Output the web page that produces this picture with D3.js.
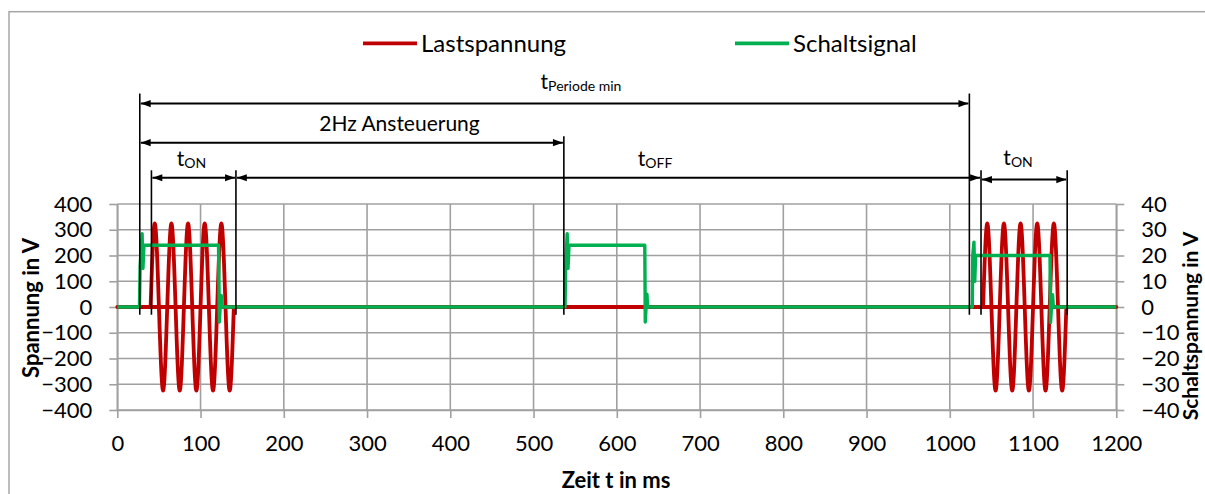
<!DOCTYPE html>
<html lang="de">
  <head>
    <meta charset="utf-8">
    <title>Lastspannung und Schaltsignal</title>
    <script src="https://d3js.org/d3.v7.min.js"></script>
    <style>
      body { margin: 0; background: #fff; }
      svg { display: block; font-family: Lato, "Open Sans", sans-serif; }
      .tick text { fill: #000; }
    </style>
  </head>
  <body>
    <svg id="chart" width="1205" height="494"></svg>

    <script type="text/javascript">
      // ---- data ----
      var timeTicks = [0, 100, 200, 300, 400, 500, 600, 700, 800, 900, 1000, 1100, 1200];
      var voltTicks = [-400, -300, -200, -100, 0, 100, 200, 300, 400];
      var schaltTicks = [-40, -30, -20, -10, 0, 10, 20, 30, 40];

      // Lastspannung: zero line plus two 50 Hz bursts (zero crossings and peaks)
      var lastZeroTime = [0, 1200];
      var lastZeroVolt = [0, 0];
      var burst1Time = [40, 45, 50, 55, 60, 65, 70, 75, 80, 85, 90, 95, 100, 105, 110, 115, 120, 125, 130, 135, 140];
      var burst1Volt = [0, 325, 0, -325, 0, 325, 0, -325, 0, 325, 0, -325, 0, 325, 0, -325, 0, 325, 0, -325, 0];
      var burst2Time = [1040, 1045, 1050, 1055, 1060, 1065, 1070, 1075, 1080, 1085, 1090, 1095, 1100, 1105, 1110, 1115, 1120, 1125, 1130, 1135, 1140];
      var burst2Volt = [0, 325, 0, -325, 0, 325, 0, -325, 0, 325, 0, -325, 0, 325, 0, -325, 0, 325, 0, -325, 0];

      // Schaltsignal (right axis, V)
      var schaltTime = [0, 26.6, 27.4, 29.8, 30.8, 32, 121.6, 122.6, 123.6, 124.8, 126,
                        537.8, 538.6, 540.4, 541.4, 542.6, 633.6, 634.2, 635.2, 636.2, 637,
                        1027, 1027.6, 1029, 1030, 1031, 1120.4, 1121, 1122.2, 1123.4, 1124.4, 1200];
      var schaltVolt = [0, 0, 16, 28.5, 15, 24, 24, -5.8, 0, 4.5, 0,
                        0, 16, 28.5, 15, 24, 24, -5.8, 0, 5, 0,
                        0, 20, 25.2, 10, 20, 20, -6, 0, 4.8, 0, 0];

      // annotation markers (ms) and how high they reach (V on the left scale)
      var markerTime = [27, 41, 142.5, 536.4, 1023.5, 1037.5, 1141];
      var markerTop = [829, 531, 531, 663, 829, 531, 531];
      var markerBottom = -30;

      // dimension arrows: start ms, end ms, level V, label
      var arrowFrom = [27, 27, 41, 142.5, 1037.5];
      var arrowTo = [1023.5, 536.4, 142.5, 1037.5, 1141];
      var arrowLevel = [790, 638, 502, 502, 495];
      var labelMain = ["t", "2Hz Ansteuerung", "t", "t", "t"];
      var labelSub = ["Periode min", "", "ON", "OFF", "ON"];
      var labelTime = [557, 339, 89, 646, 1082];
      var labelLevel = [847, 684, 548, 548, 550];

      var seriesNames = ["Lastspannung", "Schaltsignal"];
      var seriesColors = ["#c00000", "#00b050"];

      // ---- layout ----
      var svg = d3.select("#chart");
      var plotLeft = 117.3, plotRight = 1116.3, plotTop = 204, plotBottom = 410;
      var gridColor = "#a0a0a0";

      var x = d3.scaleLinear().domain([0, 1200]).range([plotLeft, plotRight]);
      var yL = d3.scaleLinear().domain([-400, 400]).range([plotBottom, plotTop]);
      var yR = d3.scaleLinear().domain([-40, 40]).range([plotBottom, plotTop]);

      // chart frame (right and bottom edge fall outside the picture)
      svg.append("rect")
        .attr("x", 9).attr("y", 11.7)
        .attr("width", 1250).attr("height", 520)
        .attr("fill", "none").attr("stroke", "#a6a6a6").attr("stroke-width", 1.5);

      // grid
      var grid = svg.append("g").attr("stroke", gridColor).attr("stroke-width", 1.6);
      grid.selectAll(".vgrid").data(timeTicks).enter().append("line")
        .attr("x1", function(d) { return x(d); }).attr("x2", function(d) { return x(d); })
        .attr("y1", plotTop).attr("y2", plotBottom);
      grid.selectAll(".hgrid").data(voltTicks).enter().append("line")
        .attr("x1", plotLeft).attr("x2", plotRight)
        .attr("y1", function(d) { return yL(d); }).attr("y2", function(d) { return yL(d); });

      function styleAxis(g) {
        g.attr("font-family", null).attr("font-size", null);
        g.selectAll("path, line").attr("stroke", gridColor).attr("stroke-width", 1.6);
        g.selectAll("text").attr("font-size", 22).attr("fill", "#000");
      }

      svg.append("g")
        .attr("transform", "translate(" + plotLeft + ",0)")
        .call(d3.axisLeft(yL).tickValues(voltTicks).tickFormat(d3.format("d"))
          .tickSize(8).tickSizeOuter(0).tickPadding(17))
        .call(styleAxis);

      svg.append("g")
        .attr("transform", "translate(" + plotRight + ",0)")
        .call(d3.axisRight(yR).tickValues(schaltTicks).tickFormat(d3.format("d"))
          .tickSize(8).tickSizeOuter(0).tickPadding(17))
        .call(styleAxis);

      svg.append("g")
        .attr("transform", "translate(0," + plotBottom + ")")
        .call(d3.axisBottom(x).tickValues(timeTicks).tickFormat(d3.format("d"))
          .tickSize(8).tickSizeOuter(0).tickPadding(17))
        .call(styleAxis);

      // axis titles
      svg.append("text")
        .attr("transform", "translate(38.5,308) rotate(-90)")
        .attr("text-anchor", "middle").attr("font-weight", "bold").attr("font-size", 22)
        .text("Spannung in V");
      svg.append("text")
        .attr("transform", "translate(1198,326) rotate(-90)")
        .attr("text-anchor", "middle").attr("font-weight", "bold").attr("font-size", 21)
        .text("Schaltspannung in V");
      svg.append("text")
        .attr("x", 616).attr("y", 488)
        .attr("text-anchor", "middle").attr("font-weight", "bold").attr("font-size", 22)
        .text("Zeit t in ms");

      // ---- series ----
      var lineL = d3.line()
        .x(function(d) { return x(d[0]); })
        .y(function(d) { return yL(d[1]); });
      var curveL = d3.line()
        .x(function(d) { return x(d[0]); })
        .y(function(d) { return yL(d[1]); })
        .curve(d3.curveNatural);
      var lineR = d3.line()
        .x(function(d) { return x(d[0]); })
        .y(function(d) { return yR(d[1]); });

      var red = svg.append("g")
        .attr("fill", "none").attr("stroke", seriesColors[0])
        .attr("stroke-width", 3.8).attr("stroke-linejoin", "round").attr("stroke-linecap", "round");
      red.append("path").attr("d", lineL(d3.zip(lastZeroTime, lastZeroVolt)));
      red.append("path").attr("d", curveL(d3.zip(burst1Time, burst1Volt)));
      red.append("path").attr("d", curveL(d3.zip(burst2Time, burst2Volt)));

      svg.append("path")
        .attr("d", lineR(d3.zip(schaltTime, schaltVolt)))
        .attr("fill", "none").attr("stroke", seriesColors[1])
        .attr("stroke-width", 3.4).attr("stroke-linejoin", "round");

      // ---- annotations ----
      svg.append("defs").append("marker")
        .attr("id", "head")
        .attr("viewBox", "0 -5 11 10")
        .attr("refX", 11).attr("refY", 0)
        .attr("markerUnits", "userSpaceOnUse")
        .attr("markerWidth", 11).attr("markerHeight", 9)
        .attr("orient", "auto-start-reverse")
        .append("path").attr("d", "M0,-4L11,0L0,4Z").attr("fill", "#000");

      var ann = svg.append("g").attr("stroke", "#000").attr("stroke-width", 1.6);
      ann.selectAll(".marker").data(d3.zip(markerTime, markerTop)).enter().append("line")
        .attr("x1", function(d) { return x(d[0]); }).attr("x2", function(d) { return x(d[0]); })
        .attr("y1", function(d) { return yL(d[1]); }).attr("y2", yL(markerBottom));

      ann.selectAll(".dim").data(d3.zip(arrowFrom, arrowTo, arrowLevel)).enter().append("line")
        .attr("x1", function(d) { return x(d[0]) + 1; })
        .attr("x2", function(d) { return x(d[1]) - 1; })
        .attr("y1", function(d) { return yL(d[2]); })
        .attr("y2", function(d) { return yL(d[2]); })
        .attr("stroke-width", 2)
        .attr("marker-start", "url(#head)")
        .attr("marker-end", "url(#head)");

      var labels = svg.selectAll(".dimlabel").data(d3.range(labelMain.length)).enter().append("text")
        .attr("x", function(i) { return x(labelTime[i]); })
        .attr("y", function(i) { return yL(labelLevel[i]); })
        .attr("text-anchor", "middle")
        .attr("font-size", 21);
      labels.append("tspan").text(function(i) { return labelMain[i]; });
      labels.append("tspan")
        .attr("font-size", 14).attr("dy", 2)
        .text(function(i) { return labelSub[i]; });

      // ---- legend ----
      var legendX = [363, 735];
      var legend = svg.selectAll(".legend").data(seriesNames).enter().append("g")
        .attr("transform", function(d, i) { return "translate(" + legendX[i] + ",43.3)"; });
      legend.append("line")
        .attr("x1", 0).attr("x2", 54)
        .attr("stroke", function(d, i) { return seriesColors[i]; })
        .attr("stroke-width", 3.8);
      legend.append("text")
        .attr("x", 58).attr("y", 8.5)
        .attr("font-size", 24)
        .text(function(d) { return d; });
    </script>
  </body>
</html>
